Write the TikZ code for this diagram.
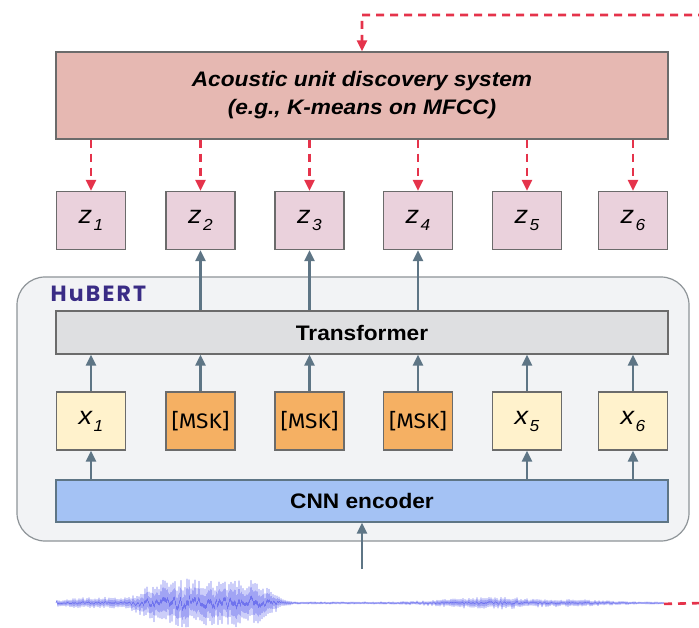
\documentclass[tikz,border=0pt]{standalone}
\usepackage{fontspec}
\setmainfont[FakeStretch=1.08]{Liberation Sans}
\newfontfamily\firafont[FakeStretch=1.08]{Fira Sans}
\newfontfamily\popfont[LetterSpace=10]{Poppins}
\usetikzlibrary{arrows.meta}

\definecolor{unitfill}{HTML}{E6B8B2}
\definecolor{zfill}{HTML}{EAD1DC}
\definecolor{hubfill}{HTML}{F2F3F5}
\definecolor{hubline}{HTML}{8E9498}
\definecolor{trfill}{HTML}{DEDFE1}
\definecolor{xfill}{HTML}{FFF2CC}
\definecolor{mskfill}{HTML}{F5B063}
\definecolor{cnnfill}{HTML}{A4C2F4}
\definecolor{boxline}{HTML}{6B6B6B}
\definecolor{flowgray}{HTML}{5E7585}
\definecolor{targetred}{HTML}{E5334B}
\definecolor{wavecol}{HTML}{6F73EE}
\definecolor{hubtext}{HTML}{3A2C85}

% italic symbol with a low subscript
\newcommand\symb[2]{\raisebox{-4pt}{{\fontsize{25}{25}\selectfont\itshape #1}\kern1.5pt\raisebox{-7pt}{\fontsize{16}{16}\selectfont\itshape #2}}}

\tikzset{
  wide/.style={draw=boxline, line width=1.2pt, minimum width=612pt, inner sep=0pt},
  tok/.style={draw=boxline, line width=1.2pt, minimum width=69pt, minimum height=58pt, inner sep=0pt},
  zbox/.style={tok, fill=zfill},
  xbox/.style={tok, fill=xfill},
  mbox/.style={tok, fill=mskfill, font=\firafont\fontsize{21}{21}\selectfont},
  flow/.style={draw=flowgray, line width=2.6pt, -{Triangle[length=11pt,width=10pt]}},
  target/.style={draw=targetred, line width=2.6pt, dash pattern=on 8pt off 6pt, -{Triangle[length=11pt,width=10pt]}},
  wave/.style={draw=wavecol, line width=0.6pt, line join=round}
}

\begin{document}
\begin{tikzpicture}[x=1pt, y=-1pt]
\useasboundingbox (0,0) rectangle (699,628);

% HuBERT container
\node[draw=hubline, fill=hubfill, line width=1.2pt, rounded corners=28pt,
      minimum width=672pt, minimum height=264pt, inner sep=0pt] (hubert) at (353,409) {};
\node[anchor=west, text=hubtext, font=\popfont\bfseries\fontsize{22}{22}\selectfont] (hublabel) at (47,294) {HuBERT};

% clustering system
\node[wide, fill=unitfill, minimum height=87pt, align=center,
      font=\bfseries\itshape\fontsize{21}{28}\selectfont] (aud) at (362,95.5)
      {\raisebox{-3pt}{\parbox{500pt}{\centering Acoustic unit discovery system\\(e.g., K-means on MFCC)}}};

% model stacks
\node[wide, fill=trfill, minimum height=43pt, font=\bfseries\fontsize{21}{21}\selectfont] (tr) at (362,332.5) {Transformer};
\node[wide, fill=cnnfill, draw=flowgray, minimum height=42pt, font=\bfseries\fontsize{21}{21}\selectfont] (cnn) at (362,501) {CNN encoder};

% targets
\node[zbox] (z1) at (91,220.5) {\symb{z}{1}};
\node[zbox] (z2) at (200.5,220.5) {\symb{z}{2}};
\node[zbox] (z3) at (309.5,220.5) {\symb{z}{3}};
\node[zbox] (z4) at (418,220.5) {\symb{z}{4}};
\node[zbox] (z5) at (527,220.5) {\symb{z}{5}};
\node[zbox] (z6) at (633,220.5) {\symb{z}{6}};

% frame features and masks
\node[xbox] (x1) at (91,421) {\symb{x}{1}};
\node[mbox] (x2) at (200.5,421) {[MSK]};
\node[mbox] (x3) at (309.5,421) {[MSK]};
\node[mbox] (x4) at (418,421) {[MSK]};
\node[xbox] (x5) at (527,421) {\symb{x}{5}};
\node[xbox] (x6) at (633,421) {\symb{x}{6}};

% clustering outputs
\foreach \i in {1,...,6}
  \draw[target] (aud.south -| z\i) -- (z\i.north);

% masked predictions
\foreach \i in {2,3,4}
  \draw[flow] (tr.north -| z\i) -- (z\i.south);

% encoder to tokens to transformer
\foreach \i in {1,...,6}
  \draw[flow] (x\i.north) -- (tr.south -| x\i);
\foreach \i in {1,5,6}
  \draw[flow] (cnn.north -| x\i) -- (x\i.south);

% speech waveform
\coordinate (wavein) at (362,569);
\draw[flow] (wavein) -- (cnn.south);
\pgfmathsetseed{11}
\draw[wave] (56,603)
  \foreach \x [count=\i, evaluate=\x as \y using {603 + (1-2*mod(\i,2))*(0.5+0.5*rnd)*(1.2
      + 5*exp(-min(abs(\x-100)/45,3)^2)
      + 23*exp(-min(abs(\x-207)/68,2.2)^6)
      + 5*exp(-min(abs(\x-492)/55,3)^2)
      + 2*exp(-min(abs(\x-580)/35,3)^2))}]
  in {57,58,...,664} { -- (\x,\y) } coordinate (waveend);

% feedback path from the audio to the clustering system
\coordinate (rb) at (706,603);
\coordinate (rt) at (706,15);
\coordinate (tl) at (362,15);
\draw[target] (waveend) -- (rb) -- (rt) -- (tl) -- (aud.north);
\end{tikzpicture}
\end{document}
